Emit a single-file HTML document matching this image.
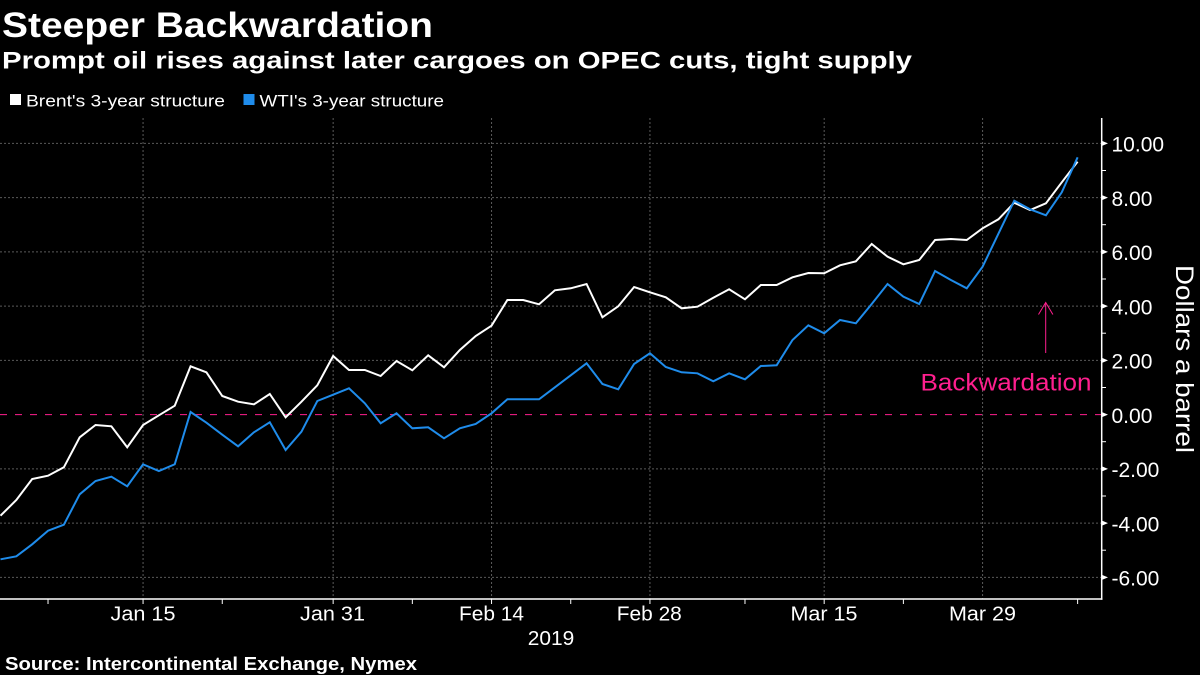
<!DOCTYPE html>
<html>
<head>
<meta charset="utf-8">
<style>
  html,body{margin:0;padding:0;background:#000;}
  svg{display:block;}
  text{font-family:"Liberation Sans",sans-serif;fill:#fff;}
</style>
</head>
<body>
<svg width="1200" height="675" viewBox="0 0 1200 675" xmlns="http://www.w3.org/2000/svg">
  <rect x="0" y="0" width="1200" height="675" fill="#000"/>

  <!-- Titles -->
  <text x="2" y="37" font-size="35" font-weight="bold" textLength="431" lengthAdjust="spacingAndGlyphs">Steeper Backwardation</text>
  <text x="2" y="68.5" font-size="24" font-weight="bold" textLength="910" lengthAdjust="spacingAndGlyphs">Prompt oil rises against later cargoes on OPEC cuts, tight supply</text>

  <!-- Legend -->
  <rect x="10" y="94" width="11" height="11" fill="#fff"/>
  <text x="26" y="106.5" font-size="17" textLength="199" lengthAdjust="spacingAndGlyphs">Brent's 3-year structure</text>
  <rect x="243.5" y="94" width="11" height="11" fill="#1f8ceb"/>
  <text x="259.5" y="106.5" font-size="17" textLength="184.5" lengthAdjust="spacingAndGlyphs">WTI's 3-year structure</text>

  <!-- Horizontal gridlines -->
  <g stroke="#5a5a5a" stroke-width="1" stroke-dasharray="2,2">
    <line x1="0" y1="143.35" x2="1101" y2="143.35"/>
    <line x1="0" y1="197.6" x2="1101" y2="197.6"/>
    <line x1="0" y1="251.85" x2="1101" y2="251.85"/>
    <line x1="0" y1="306.1" x2="1101" y2="306.1"/>
    <line x1="0" y1="360.35" x2="1101" y2="360.35"/>
    <line x1="0" y1="468.85" x2="1101" y2="468.85"/>
    <line x1="0" y1="523.1" x2="1101" y2="523.1"/>
    <line x1="0" y1="577.35" x2="1101" y2="577.35"/>
    <!-- Vertical gridlines -->
    <line x1="143.06" y1="118" x2="143.06" y2="599"/>
    <line x1="333.14" y1="118" x2="333.14" y2="599"/>
    <line x1="491.54" y1="118" x2="491.54" y2="599"/>
    <line x1="649.94" y1="118" x2="649.94" y2="599"/>
    <line x1="824.18" y1="118" x2="824.18" y2="599"/>
    <line x1="982.58" y1="118" x2="982.58" y2="599"/>
  </g>

  <!-- Zero line -->
  <line x1="0" y1="414.6" x2="1101" y2="414.6" stroke="#ff1f8e" stroke-width="1" stroke-dasharray="7,8"/>

  <!-- Annotation -->
  <g stroke="#ff1f8e" stroke-width="1" fill="none">
    <line x1="1045.7" y1="353" x2="1045.7" y2="302.5"/>
    <polyline points="1038.5,314.5 1045.7,302.5 1052.9,314.5"/>
  </g>
  <text x="920.5" y="390.5" font-size="24" fill="#ff1f8e" style="fill:#ff1f8e" textLength="171" lengthAdjust="spacingAndGlyphs">Backwardation</text>

  <!-- Brent series (white) -->
  <polyline fill="none" stroke="#fff" stroke-width="2" stroke-linejoin="miter" points="
0.5,515.7 16.34,500 32.18,479 48.02,475.7 63.86,467.3 79.7,437.3 95.54,425 111.38,426.3 127.22,447.3 143.06,425
158.9,415.3 174.74,405.7 190.58,366.3 206.42,372.3 222.26,396 238.1,401.7 253.94,404.3 269.78,394 285.62,417.3 301.46,401.7
317.3,385.3 333.14,356 348.98,370 364.82,370 380.66,376 396.5,361 412.34,370.3 428.18,355.3 444.02,367.3 459.86,350
475.7,336 491.54,325.7 507.38,300 523.22,300 539.06,304.3 554.9,290.3 570.74,288.3 586.58,284 602.42,317.3 618.26,306.3
634.1,287 649.94,292.3 665.78,297.3 681.62,308.3 697.46,306.7 713.3,297.7 729.14,289.3 744.98,299.3 760.82,285 776.66,285
792.5,277.3 808.34,273 824.18,273.3 840.02,265.3 855.86,261.3 871.7,244 887.54,256.7 903.38,264.3 919.22,260 935.06,240
950.9,239 966.74,240 982.58,228.3 998.42,219.3 1014.26,202.7 1030.1,210 1045.94,203.3 1061.78,182.3 1077.62,161.7"/>

  <!-- WTI series (blue) -->
  <polyline fill="none" stroke="#1f8ceb" stroke-width="2" stroke-linejoin="miter" points="
0.5,559.3 16.34,556.3 32.18,544.3 48.02,530.7 63.86,524.7 79.7,494.3 95.54,481 111.38,476.7 127.22,486.3 143.06,464.3
158.9,471 174.74,464.3 190.58,412 206.42,422.7 222.26,434.7 238.1,446.3 253.94,432.3 269.78,422.3 285.62,450 301.46,431.7
317.3,401 333.14,394.7 348.98,388.3 364.82,403.3 380.66,423.3 396.5,413.3 412.34,428.3 428.18,427.3 444.02,438.3 459.86,428.3
475.7,424 491.54,413.3 507.38,399.3 523.22,399.3 539.06,399.3 554.9,387.3 570.74,375.3 586.58,363.3 602.42,384 618.26,389.3
634.1,364 649.94,353.3 665.78,367 681.62,372.3 697.46,373.3 713.3,381.3 729.14,373.3 744.98,379.3 760.82,366 776.66,365.3
792.5,340 808.34,325.3 824.18,333.3 840.02,320 855.86,323.3 871.7,304 887.54,284 903.38,296.7 919.22,304 935.06,271
950.9,280 966.74,288.3 982.58,266.7 998.42,233.7 1014.26,200.7 1030.1,209.3 1045.94,215.3 1061.78,192.3 1077.62,157.3"/>

  <!-- Axes -->
  <line x1="0" y1="599" x2="1102.5" y2="599" stroke="#fff" stroke-width="1.5"/>
  <line x1="1101.7" y1="118" x2="1101.7" y2="599.7" stroke="#fff" stroke-width="1.5"/>

  <!-- Bottom ticks -->
  <g stroke="#fff" stroke-width="1">
    <line x1="48.02" y1="599" x2="48.02" y2="604"/>
    <line x1="143.06" y1="599" x2="143.06" y2="604"/>
    <line x1="222.26" y1="599" x2="222.26" y2="604"/>
    <line x1="333.14" y1="599" x2="333.14" y2="604"/>
    <line x1="412.34" y1="599" x2="412.34" y2="604"/>
    <line x1="491.54" y1="599" x2="491.54" y2="604"/>
    <line x1="570.74" y1="599" x2="570.74" y2="604"/>
    <line x1="649.94" y1="599" x2="649.94" y2="604"/>
    <line x1="744.98" y1="599" x2="744.98" y2="604"/>
    <line x1="824.18" y1="599" x2="824.18" y2="604"/>
    <line x1="903.38" y1="599" x2="903.38" y2="604"/>
    <line x1="1077.62" y1="599" x2="1077.62" y2="604"/>
  </g>

  <!-- Right axis minor ticks -->
  <g stroke="#fff" stroke-width="1">
    <line x1="1102" y1="170.5" x2="1106" y2="170.5"/>
    <line x1="1102" y1="224.7" x2="1106" y2="224.7"/>
    <line x1="1102" y1="279" x2="1106" y2="279"/>
    <line x1="1102" y1="333.2" x2="1106" y2="333.2"/>
    <line x1="1102" y1="387.5" x2="1106" y2="387.5"/>
    <line x1="1102" y1="441.7" x2="1106" y2="441.7"/>
    <line x1="1102" y1="496" x2="1106" y2="496"/>
    <line x1="1102" y1="550.2" x2="1106" y2="550.2"/>
  </g>
  <!-- Right axis major ticks -->
  <g fill="#fff">
    <polygon points="1102,140.85 1108,143.35 1102,145.85"/>
    <polygon points="1102,195.1 1108,197.6 1102,200.1"/>
    <polygon points="1102,249.35 1108,251.85 1102,254.35"/>
    <polygon points="1102,303.6 1108,306.1 1102,308.6"/>
    <polygon points="1102,357.85 1108,360.35 1102,362.85"/>
    <polygon points="1102,412.1 1108,414.6 1102,417.1"/>
    <polygon points="1102,466.35 1108,468.85 1102,471.35"/>
    <polygon points="1102,520.6 1108,523.1 1102,525.6"/>
    <polygon points="1102,574.85 1108,577.35 1102,579.85"/>
  </g>

  <!-- Right axis labels -->
  <g font-size="21">
    <text x="1111.5" y="151.6">10.00</text>
    <text x="1111.5" y="205.9">8.00</text>
    <text x="1111.5" y="260.1">6.00</text>
    <text x="1111.5" y="314.4">4.00</text>
    <text x="1111.5" y="368.6">2.00</text>
    <text x="1111.5" y="422.9">0.00</text>
    <text x="1111.5" y="477.1">-2.00</text>
    <text x="1111.5" y="531.4">-4.00</text>
    <text x="1111.5" y="585.6">-6.00</text>
  </g>

  <!-- Right axis title -->
  <text transform="translate(1176,359) rotate(90)" text-anchor="middle" font-size="25" textLength="188" lengthAdjust="spacingAndGlyphs">Dollars a barrel</text>

  <!-- Bottom labels -->
  <g font-size="20" text-anchor="middle">
    <text x="143" y="620.7" textLength="65" lengthAdjust="spacingAndGlyphs">Jan 15</text>
    <text x="332.5" y="620.7" textLength="65" lengthAdjust="spacingAndGlyphs">Jan 31</text>
    <text x="491.5" y="620.7" textLength="65" lengthAdjust="spacingAndGlyphs">Feb 14</text>
    <text x="649.3" y="620.7" textLength="65" lengthAdjust="spacingAndGlyphs">Feb 28</text>
    <text x="824" y="620.7" textLength="67" lengthAdjust="spacingAndGlyphs">Mar 15</text>
    <text x="982.5" y="620.7" textLength="67" lengthAdjust="spacingAndGlyphs">Mar 29</text>
    <text x="551" y="645" textLength="46.5" lengthAdjust="spacingAndGlyphs">2019</text>
  </g>

  <!-- Source -->
  <text x="5" y="670" font-size="18" font-weight="bold" textLength="412" lengthAdjust="spacingAndGlyphs">Source: Intercontinental Exchange, Nymex</text>
</svg>
</body>
</html>
